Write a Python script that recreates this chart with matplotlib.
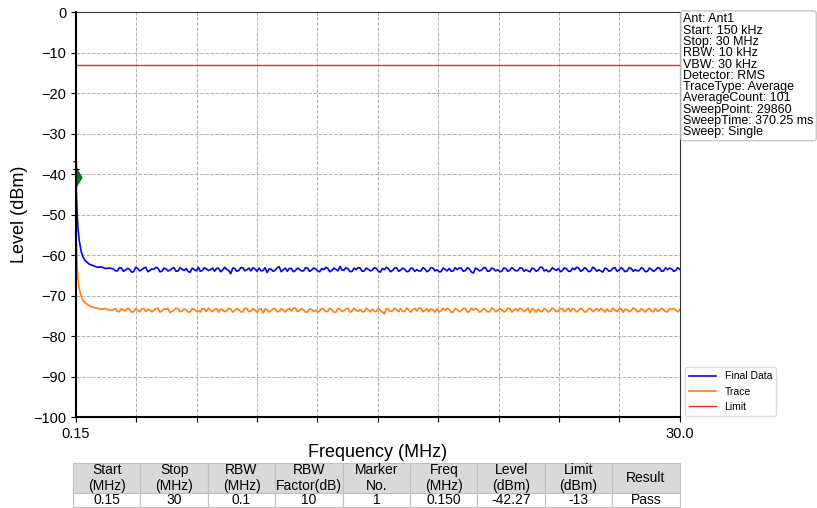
import numpy as np
import matplotlib.pyplot as plt

plt.rcParams['font.family'] = ['Liberation Sans', 'DejaVu Sans']

# Frequencies (MHz): steep start, then evenly spaced sweep samples
freq_head = [0.15, 0.18, 0.21, 0.25, 0.3, 0.4, 0.5, 0.6, 0.8, 1.0, 1.2, 1.4, 1.6, 1.8]
freq_flat = np.linspace(2.0, 30.0, 141)
freq_mid = np.linspace(2.1, 29.9, 140)

final_head = [-40.7, -46.0, -50.0, -53.5, -56.0, -59.0, -60.5, -61.3, -62.2, -62.6,
              -63.0, -62.9, -63.3, -63.2]
final_flat = [
    -63.4, -63.9, -63.2, -63.7, -63.5, -64.1, -63.3, -63.6, -63.0, -63.8,
    -63.5, -63.2, -64.0, -63.4, -63.7, -63.1, -63.9, -63.5, -63.3, -64.2,
    -63.6, -63.0, -63.8, -63.4, -63.6, -64.0, -63.2, -63.7, -63.5, -64.6,
    -63.3, -63.8, -63.1, -63.6, -63.9, -63.4, -63.2, -63.8, -64.3, -63.5,
    -63.7, -62.9, -63.6, -64.0, -63.3, -63.8, -63.5, -63.9, -63.2, -63.7,
    -63.4, -64.1, -63.6, -63.3, -63.8, -63.5, -62.8, -63.7, -63.4, -64.0,
    -63.6, -63.2, -63.9, -63.5, -63.7, -63.3, -64.2, -63.6, -63.4, -63.8,
    -63.1, -63.7, -63.5, -64.0, -63.3, -63.6, -63.9, -63.4, -63.8, -63.2,
    -63.6, -64.1, -63.5, -63.3, -63.9, -63.6, -63.2, -63.8, -63.4, -64.4,
    -63.5, -63.7, -63.1, -63.9, -63.4, -63.6, -64.0, -63.3, -63.7, -63.5,
    -63.8, -63.2, -63.6, -64.1, -63.4, -63.7, -63.0, -63.6, -63.9, -63.5,
    -63.3, -63.8, -63.4, -64.0, -63.6, -63.2, -63.7, -63.5, -63.9, -63.3,
    -63.6, -64.2, -63.4, -63.8, -63.1, -63.7, -63.5, -63.9, -63.3, -63.6,
    -63.8, -63.4, -64.0, -63.5, -63.7, -63.2, -63.9, -63.6, -63.4, -63.8,
    -63.5]
final_mid = [
    -63.9, -63.1, -64.0, -63.3, -64.2, -63.0, -63.9, -63.2, -64.1, -63.4,
    -63.0, -64.1, -63.2, -63.9, -63.3, -64.0, -63.1, -63.8, -64.1, -63.2,
    -63.9, -64.0, -63.1, -63.8, -63.2, -63.3, -64.1, -63.0, -63.8, -63.2,
    -64.0, -63.1, -63.9, -63.2, -63.1, -64.0, -63.9, -63.1, -63.4, -64.0,
    -63.1, -64.1, -63.2, -63.3, -64.1, -63.2, -63.9, -63.1, -64.0, -63.2,
    -63.9, -63.3, -63.0, -64.1, -63.2, -63.9, -63.7, -63.1, -64.1, -63.2,
    -63.1, -64.0, -63.2, -63.9, -63.1, -64.0, -63.3, -63.0, -64.1, -63.2,
    -64.0, -63.2, -64.1, -63.2, -64.0, -63.9, -63.1, -64.1, -63.1, -63.9,
    -64.1, -63.2, -63.9, -64.0, -63.1, -63.2, -64.0, -63.1, -64.2, -63.2,
    -63.9, -63.1, -64.0, -63.2, -63.9, -64.1, -63.2, -64.0, -63.1, -63.9,
    -63.1, -64.0, -63.9, -63.2, -64.0, -63.0, -63.9, -64.1, -63.1, -63.8,
    -64.1, -63.1, -64.0, -63.2, -63.0, -64.0, -63.1, -64.1, -63.0, -64.0,
    -63.9, -63.2, -64.0, -63.2, -64.0, -63.1, -64.1, -63.1, -64.0, -63.9,
    -63.1, -64.1, -63.2, -64.0, -63.1, -64.0, -63.1, -63.2, -64.0, -63.1]

trace_head = [-54.0, -59.0, -63.0, -66.0, -68.0, -70.0, -71.2, -71.8, -72.5, -72.9,
              -73.1, -73.4, -73.2, -73.6]
trace_flat = [
    -73.5, -73.9, -73.2, -73.8, -73.4, -74.0, -73.6, -73.3, -73.9, -73.5,
    -73.7, -73.1, -73.8, -73.4, -74.2, -73.6, -73.3, -73.8, -73.5, -74.0,
    -73.4, -73.7, -73.2, -73.9, -73.6, -73.4, -74.1, -73.5, -73.8, -73.3,
    -73.7, -73.5, -74.0, -73.2, -73.8, -73.6, -73.4, -74.3, -73.5, -73.7,
    -73.3, -73.9, -73.6, -73.4, -73.8, -73.1, -73.7, -73.5, -74.0, -73.4,
    -73.6, -73.8, -73.3, -73.9, -73.5, -74.1, -73.4, -73.7, -73.2, -73.8,
    -73.6, -73.4, -74.0, -73.5, -73.3, -73.9, -73.6, -74.5, -73.4, -73.8,
    -73.5, -73.2, -73.9, -73.6, -73.4, -73.8, -73.1, -73.7, -74.0, -73.5,
    -73.3, -73.8, -73.6, -73.4, -74.1, -73.5, -73.7, -73.2, -73.9, -73.6,
    -73.4, -73.8, -73.5, -74.0, -73.3, -73.7, -73.5, -73.9, -73.2, -73.6,
    -73.8, -73.4, -73.6, -74.2, -73.5, -73.3, -73.9, -73.5, -73.7, -73.4,
    -73.8, -73.2, -73.6, -74.0, -73.4, -73.7, -73.5, -73.9, -73.3, -73.6,
    -73.8, -73.5, -73.3, -73.9, -73.6, -73.4, -74.1, -73.5, -73.7, -73.3,
    -73.9, -73.6, -73.4, -73.8, -73.2, -73.7, -73.5, -74.0, -73.4, -73.6,
    -73.5]
trace_mid = [
    -73.2, -74.0, -73.6, -73.1, -74.1, -73.3, -74.0, -73.2, -73.4, -74.0,
    -73.2, -74.1, -73.3, -73.2, -73.9, -73.1, -74.0, -73.3, -74.1, -73.2,
    -73.9, -74.1, -73.3, -73.1, -74.0, -73.2, -73.3, -74.0, -73.1, -74.1,
    -73.2, -74.0, -73.1, -74.0, -73.2, -74.1, -73.2, -73.3, -74.1, -73.2,
    -74.0, -73.2, -74.1, -73.2, -73.1, -74.0, -73.2, -74.1, -73.3, -73.9,
    -74.1, -73.2, -74.0, -73.1, -74.1, -73.2, -73.9, -73.2, -74.1, -73.1,
    -73.9, -74.0, -73.1, -74.0, -73.9, -73.2, -74.1, -73.2, -73.9, -73.1,
    -74.0, -73.9, -73.1, -74.1, -73.2, -73.1, -74.0, -73.2, -73.3, -74.1,
    -74.0, -73.1, -73.2, -74.1, -73.2, -74.0, -73.2, -74.1, -73.1, -73.2,
    -74.1, -73.2, -74.0, -73.1, -74.0, -73.2, -74.0, -73.1, -74.1, -73.2,
    -73.1, -74.0, -73.1, -73.2, -74.1, -73.9, -73.2, -74.1, -73.1, -74.0,
    -73.2, -74.0, -73.1, -73.2, -74.0, -73.1, -74.1, -73.2, -74.0, -73.2,
    -73.2, -74.1, -73.9, -73.1, -74.0, -73.2, -73.3, -74.0, -73.1, -74.0,
    -73.2, -74.1, -73.2, -74.0, -73.9, -73.1, -74.0, -73.2, -73.2, -74.0]

limit_level = -13
start_mhz, stop_mhz = 0.15, 30.0
marker_freq, marker_level = 0.15, -40.7

info_lines = ["Ant: Ant1", "Start: 150 kHz", "Stop: 30 MHz", "RBW: 10 kHz",
              "VBW: 30 kHz", "Detector: RMS", "TraceType: Average",
              "AverageCount: 101", "SweepPoint: 29860", "SweepTime: 370.25 ms",
              "Sweep: Single"]

table_header = ["Start\n(MHz)", "Stop\n(MHz)", "RBW\n(MHz)", "RBW\nFactor(dB)",
                "Marker\nNo.", "Freq\n(MHz)", "Level\n(dBm)", "Limit\n(dBm)", "Result"]
table_row = ["0.15", "30", "0.1", "10", "1", "0.150", "-42.27", "-13", "Pass"]

# merge the sweep samples in frequency order
freq = np.concatenate([freq_head, freq_flat, freq_mid])
order = np.argsort(freq)
freq = freq[order]
final_data = np.concatenate([final_head, final_flat, final_mid])[order]
trace = np.concatenate([trace_head, trace_flat, trace_mid])[order]

fig = plt.figure(figsize=(8.17, 5.08), dpi=100)
ax = fig.add_axes([0.093, 0.179, 0.739, 0.797])

ax.plot(freq, final_data, color='#0000ff', lw=1.2, label='Final Data')
ax.plot(freq, trace, color='#ff7f0e', lw=1.2, label='Trace')
ax.axhline(limit_level, color='#ff2020', lw=1, label='Limit')

# marker 1 (diamond cut by the left axis edge -> only right half shows)
half_diamond = [(0, 1), (0.6, 0), (0, -1), (0, 1)]
ax.plot(marker_freq, marker_level, marker=half_diamond, color='green', ms=13, ls='none')
ax.text(marker_freq, marker_level + 1.0, '1', ha='center', va='bottom', fontsize=11)

ax.set_xlim(start_mhz, stop_mhz)
ax.set_ylim(-100, 0)
xt = np.linspace(start_mhz, stop_mhz, 11)
ax.set_xticks(xt)
ax.set_xticklabels(['0.15'] + [''] * 9 + ['30.0'])
ax.set_yticks(np.arange(-100, 1, 10))
ax.tick_params(labelsize=10.5)
ax.grid(True, ls='--', color='#b0b0b0', lw=0.7)
for s in ['left', 'bottom']:
    ax.spines[s].set_linewidth(1.5)
for s in ['top', 'right']:
    ax.spines[s].set_color('#333333')
ax.set_xlabel('Frequency (MHz)', fontsize=13, labelpad=2)
ax.set_ylabel('Level (dBm)', fontsize=13)

ax.text(1.006, 0.997, "\n".join(info_lines), transform=ax.transAxes, va='top', ha='left',
        fontsize=9, linespacing=0.92,
        bbox=dict(boxstyle='round,pad=0.2', fc='white', ec='#c8c8c8'))

ax.legend(loc='lower left', bbox_to_anchor=(1.0, -0.01), fontsize=7.5, frameon=True,
          edgecolor='#d0d0d0', handlelength=2.6)

tbl = ax.table(cellText=[table_header, table_row], cellLoc='center',
               bbox=[-0.005, -0.222, 1.005, 0.108])
tbl.auto_set_font_size(False)
tbl.set_fontsize(10)
for (r, c), cell in tbl.get_celld().items():
    cell.set_edgecolor('#c0c0c0')
    cell.set_linewidth(0.8)
    if r == 0:
        cell.set_facecolor('#d9d9d9')
        cell.set_height(0.074)
    else:
        cell.set_height(0.034)

fig.savefig('out.png', dpi=100)
